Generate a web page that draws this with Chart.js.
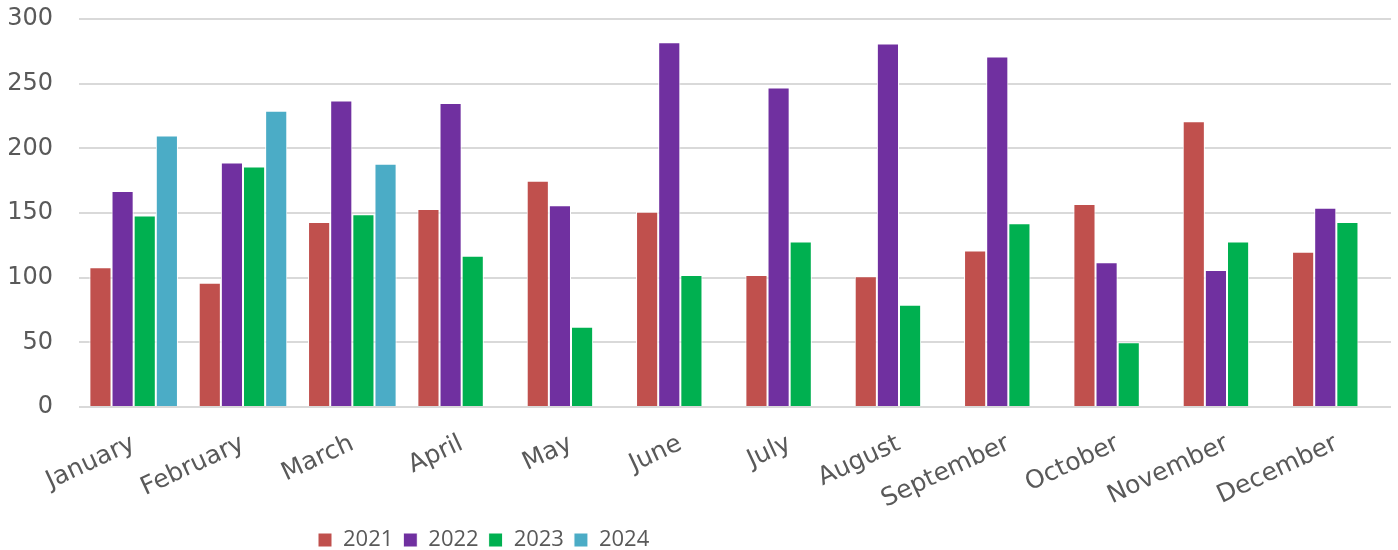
<!DOCTYPE html>
<html>
<head>
<meta charset="utf-8">
<script src="https://cdn.jsdelivr.net/npm/chart.js@4/dist/chart.umd.min.js"></script>
<style>
  html, body { margin: 0; padding: 0; background: #ffffff; }
  #wrap { width: 1398px; height: 550px; }
</style>
</head>
<body>
<div id="wrap"><canvas id="c" width="1398" height="550"></canvas></div>
<script>
const categories = ["January","February","March","April","May","June","July","August","September","October","November","December"];
const seriesNames = ["2021","2022","2023","2024"];
const values2021 = [108, 96, 143, 153, 175, 151, 102, 101, 121, 157, 221, 120];
const values2022 = [167, 189, 237, 235, 156, 282, 247, 281, 271, 112, 106, 154];
const values2023 = [148, 186, 149, 117, 62, 102, 128, 79, 142, 50, 128, 143];
const values2024 = [210, 229, 188, null, null, null, null, null, null, null, null, null];
const yTicks = [0, 50, 100, 150, 200, 250, 300];

const colors = ["#C0504D", "#7030A0", "#00B050", "#4BACC6"];
const allValues = [values2021, values2022, values2023, values2024];

const LEGEND_FONT = 22;
const LEGEND_PAD = 10;
const LEGEND_HEIGHT = LEGEND_FONT + LEGEND_PAD + 10;

const legendShift = {
  id: 'legendShift',
  afterLayout(chart) {
    const lg = chart.legend;
    if (!lg) return;
    const w = lg.right - lg.left;
    const h = lg.bottom - lg.top;
    const pad = lg.options.labels.padding;
    lg.left = 318 - pad;
    lg.right = lg.left + w;
    lg.top = 540 - pad - LEGEND_FONT / 2;
    lg.bottom = lg.top + h;
  }
};

new Chart(document.getElementById('c'), {
  type: 'bar',
  data: {
    labels: categories,
    datasets: seriesNames.map((name, i) => ({
      label: name,
      data: allValues[i],
      backgroundColor: colors[i],
      borderColor: '#ffffff',
      borderWidth: 1,
      categoryPercentage: 0.81,
      barPercentage: 1.0
    }))
  },
  options: {
    responsive: false,
    animation: false,
    layout: { padding: { left: 0, right: 7, top: 19, bottom: 0 } },
    plugins: {
      tooltip: { enabled: false },
      legend: {
        position: 'bottom',
        align: 'start',
        labels: {
          boxWidth: 14,
          boxHeight: 14,
          padding: LEGEND_PAD,
          color: '#595959',
          font: { family: "'Open Sans', 'Noto Sans', sans-serif", size: LEGEND_FONT }
        }
      }
    },
    scales: {
      x: {
        grid: { display: false, drawTicks: false },
        border: { display: false },
        ticks: {
          autoSkip: false,
          maxRotation: 25,
          minRotation: 25,
          padding: 22,
          color: '#595959',
          font: { family: "'DejaVu Sans', sans-serif", size: 25 }
        },
        afterFit(scale) { scale.height = 143 - LEGEND_HEIGHT; }
      },
      y: {
        min: 0,
        max: 300,
        afterBuildTicks(scale) { scale.ticks = yTicks.map(v => ({ value: v })); },
        grid: { color: '#d9d9d9', lineWidth: 2, drawTicks: false },
        border: { display: false },
        ticks: {
          padding: 26,
          color: '#595959',
          font: { family: "'DejaVu Sans', sans-serif", size: 24 }
        },
        afterFit(scale) {
          scale.width = 79;
          scale.paddingTop = 0;
          scale.paddingBottom = 0;
        }
      }
    }
  },
  plugins: [legendShift]
});
</script>
</body>
</html>
